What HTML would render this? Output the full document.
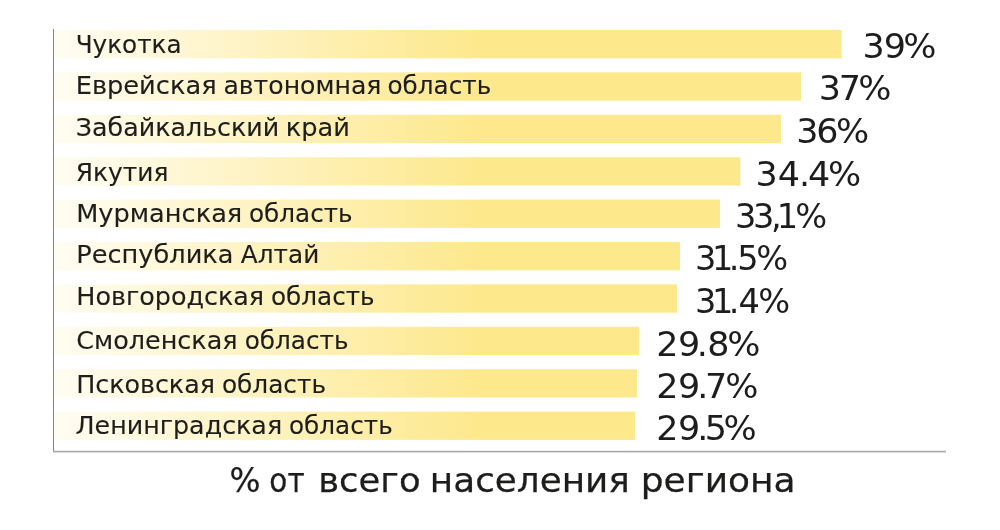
<!DOCTYPE html>
<html lang="ru"><head><meta charset="utf-8"><title>% от всего населения региона</title>
<style>
html,body{margin:0;padding:0;background:#fff;}
body{width:1000px;height:530px;overflow:hidden;}
svg{display:block;}
text{font-family:"DejaVu Sans","Liberation Sans",sans-serif;fill:#1d1d1b;}
.l{font-size:24.8px;stroke:#1d1d1b;stroke-width:0.12;}
.v{font-size:33.6px;}
.c{font-size:33.7px;stroke:#1d1d1b;stroke-width:0.25;}
</style></head><body>
<svg width="1000" height="530" viewBox="0 0 1000 530">
<defs><linearGradient id="g" gradientUnits="userSpaceOnUse" x1="54" y1="0" x2="481" y2="0">
<stop offset="0" stop-color="#fffdf3"/><stop offset="0.5" stop-color="#fef2bf"/><stop offset="1" stop-color="#fde88c"/></linearGradient></defs>
<rect width="1000" height="530" fill="#fff"/>

<rect x="54" y="30.0" width="787.6" height="28.3" fill="url(#g)"/>
<rect x="54" y="72.4" width="747.0" height="28.3" fill="url(#g)"/>
<rect x="54" y="114.8" width="727.0" height="28.3" fill="url(#g)"/>
<rect x="54" y="157.2" width="686.4" height="28.3" fill="url(#g)"/>
<rect x="54" y="199.6" width="666.0" height="28.3" fill="url(#g)"/>
<rect x="54" y="242.0" width="626.0" height="28.3" fill="url(#g)"/>
<rect x="54" y="284.4" width="623.0" height="28.3" fill="url(#g)"/>
<rect x="54" y="326.8" width="585.0" height="28.3" fill="url(#g)"/>
<rect x="54" y="369.2" width="583.0" height="28.3" fill="url(#g)"/>
<rect x="54" y="411.6" width="581.0" height="28.3" fill="url(#g)"/>
<rect x="53" y="29" width="1" height="423" fill="#828282"/>
<rect x="53" y="450.8" width="893" height="1.6" fill="#a9a9a9"/>
<g class="l" transform="translate(0 53.0)"><text x="75.63" textLength="105.99" lengthAdjust="spacingAndGlyphs">Чукотка</text></g>
<g class="l" transform="translate(0 93.6)"><text x="75.70" textLength="140.89" lengthAdjust="spacingAndGlyphs">Еврейская</text> <text x="223.40" textLength="158.06" lengthAdjust="spacingAndGlyphs">автономная</text> <text x="387.52" textLength="103.72" lengthAdjust="spacingAndGlyphs">область</text></g>
<g class="l" transform="translate(0 136.0)"><text x="75.88" textLength="203.37" lengthAdjust="spacingAndGlyphs">Забайкальский</text> <text x="285.70" textLength="64.14" lengthAdjust="spacingAndGlyphs">край</text></g>
<g class="l" transform="translate(0 181.4)"><text x="75.65" textLength="92.74" lengthAdjust="spacingAndGlyphs">Якутия</text></g>
<g class="l" transform="translate(0 222.0)"><text x="76.25" textLength="166.03" lengthAdjust="spacingAndGlyphs">Мурманская</text> <text x="248.93" textLength="103.74" lengthAdjust="spacingAndGlyphs">область</text></g>
<g class="l" transform="translate(0 263.0)"><text x="76.26" textLength="157.24" lengthAdjust="spacingAndGlyphs">Республика</text> <text x="240.83" textLength="78.43" lengthAdjust="spacingAndGlyphs">Алтай</text></g>
<g class="l" transform="translate(0 304.6)"><text x="76.31" textLength="187.86" lengthAdjust="spacingAndGlyphs">Новгородская</text> <text x="270.93" textLength="103.73" lengthAdjust="spacingAndGlyphs">область</text></g>
<g class="l" transform="translate(0 349.4)"><text x="76.21" textLength="161.42" lengthAdjust="spacingAndGlyphs">Смоленская</text> <text x="244.70" textLength="103.79" lengthAdjust="spacingAndGlyphs">область</text></g>
<g class="l" transform="translate(0 392.6)"><text x="76.18" textLength="138.80" lengthAdjust="spacingAndGlyphs">Псковская</text> <text x="221.92" textLength="104.08" lengthAdjust="spacingAndGlyphs">область</text></g>
<g class="l" transform="translate(0 434.0)"><text x="75.55" textLength="206.58" lengthAdjust="spacingAndGlyphs">Ленинградская</text> <text x="288.94" textLength="103.74" lengthAdjust="spacingAndGlyphs">область</text></g>
<text class="v" transform="translate(0 57.6) scale(1.04 1)" x="829.38 849.69 868.49">39%</text>
<text class="v" transform="translate(0 100.4) scale(1.04 1)" x="787.21 806.39 825.22">37%</text>
<text class="v" transform="translate(0 143.0) scale(1.04 1)" x="765.68 784.83 803.87">36%</text>
<text class="v" transform="translate(0 185.6) scale(1.04 1)" x="726.44 747.94 768.19 777.00 796.27">34.4%</text>
<text class="v" transform="translate(0 227.6) scale(1.0 1)" x="734.88 753.01 771.10 776.81 795.23">33,1%</text>
<text class="v" transform="translate(0 270.4) scale(1.0 1)" x="695.10 712.09 728.78 737.23 756.13">31.5%</text>
<text class="v" transform="translate(0 312.6) scale(1.0 1)" x="695.10 712.09 728.78 738.38 758.13">31.4%</text>
<text class="v" transform="translate(0 355.6) scale(1.04 1)" x="630.92 651.93 669.87 680.09 699.25">29.8%</text>
<text class="v" transform="translate(0 397.6) scale(1.04 1)" x="631.01 651.84 670.40 677.97 697.33">29.7%</text>
<text class="v" transform="translate(0 440.0) scale(1.04 1)" x="631.01 651.84 670.40 677.57 695.79">29.5%</text>
<g class="c" transform="translate(0 491.8)"><text x="229.45" textLength="31.00" lengthAdjust="spacingAndGlyphs">%</text> <text x="269.37" textLength="35.19" lengthAdjust="spacingAndGlyphs">от</text> <text x="318.19" textLength="102.49" lengthAdjust="spacingAndGlyphs">всего</text> <text x="429.88" textLength="199.94" lengthAdjust="spacingAndGlyphs">населения</text> <text x="640.76" textLength="154.87" lengthAdjust="spacingAndGlyphs">региона</text></g>
</svg></body></html>
